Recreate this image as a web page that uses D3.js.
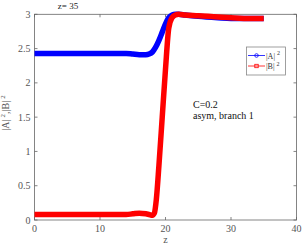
<!DOCTYPE html>
<html><head><meta charset="utf-8">
<script src="https://cdn.jsdelivr.net/npm/d3@7"></script>
<style>body{margin:0;background:#fff}text{font-family:"Liberation Serif","DejaVu Serif",serif;}</style>
</head><body><svg id="c" width="303" height="248"></svg>
<script>
const zA = [0,5,10,14,15,16,17,17.5,18,18.5,19,19.5,20,20.5,21,21.5,22,23,25,28,30,33,35];
const A  = [2.43,2.43,2.43,2.43,2.42,2.41,2.41,2.42,2.45,2.52,2.62,2.74,2.86,2.95,2.99,3.0,3.0,2.99,2.97,2.95,2.94,2.94,2.94];
const zB = [0,5,10,14,15,16,17,17.5,18,18.3,18.6,19,19.5,20,20.5,21,21.5,22,23,25,28,30,33,35];
const B  = [0.08,0.08,0.08,0.08,0.09,0.1,0.09,0.08,0.07,0.1,0.3,0.8,1.5,2.2,2.8,2.95,2.99,3.0,2.99,2.98,2.96,2.95,2.94,2.94];
const xTicks = [0,10,20,30,40];
const yTicks = [0,0.5,1,1.5,2,2.5,3];
const legendLabels = ["|A|","|B|"];

const svg = d3.select("#c");
const L=34.5,R=296.5,T=14.3,Bt=220;
const x = d3.scaleLinear().domain([0,40]).range([L,R]);
const y = d3.scaleLinear().domain([0,3]).range([Bt,T]);
const ax="#666";

svg.append("rect").attr("x",L).attr("y",T).attr("width",R-L).attr("height",Bt-T).attr("fill","none").attr("stroke",ax).attr("stroke-width",0.8);
xTicks.forEach(t=>{
  svg.append("line").attr("x1",x(t)).attr("x2",x(t)).attr("y1",Bt).attr("y2",Bt-3).attr("stroke",ax).attr("stroke-width",0.8);
  svg.append("line").attr("x1",x(t)).attr("x2",x(t)).attr("y1",T).attr("y2",T+3).attr("stroke",ax).attr("stroke-width",0.8);
  svg.append("text").attr("x",x(t)).attr("y",Bt+12).attr("text-anchor","middle").attr("font-size",10).attr("fill","#555").text(t);
});
yTicks.forEach(t=>{
  svg.append("line").attr("x1",L).attr("x2",L+3).attr("y1",y(t)).attr("y2",y(t)).attr("stroke",ax).attr("stroke-width",0.8);
  svg.append("line").attr("x1",R).attr("x2",R-3).attr("y1",y(t)).attr("y2",y(t)).attr("stroke",ax).attr("stroke-width",0.8);
  svg.append("text").attr("x",L-4).attr("y",y(t)+3.5).attr("text-anchor","end").attr("font-size",10).attr("fill","#555").text(t);
});

const line = d3.line().x(d=>x(d[0])).y(d=>y(d[1])).curve(d3.curveMonotoneX);
svg.append("path").datum(zA.map((z,i)=>[z,A[i]])).attr("d",line).attr("fill","none").attr("stroke","#0000ff").attr("stroke-width",5.5).attr("stroke-linejoin","round");
svg.append("path").datum(zB.map((z,i)=>[z,B[i]])).attr("d",line).attr("fill","none").attr("stroke","#ff0000").attr("stroke-width",5.5).attr("stroke-linejoin","round");

svg.append("text").attr("x",68).attr("y",9).attr("text-anchor","middle").attr("font-size",9).attr("fill","#222").text("z= 35");
svg.append("text").attr("x",x(20)).attr("y",243).attr("text-anchor","middle").attr("font-size",10).attr("fill","#555").text("z");

const yl = svg.append("text").attr("transform","translate(9,113) rotate(-90)").attr("text-anchor","middle").attr("font-size",10).attr("fill","#555");
yl.append("tspan").text("|A|");
yl.append("tspan").attr("font-size",7).attr("dy",-4).attr("dx",2).text("2");
yl.append("tspan").attr("dy",4).text(",|B|");
yl.append("tspan").attr("font-size",7).attr("dy",-4).attr("dx",2).text("2");

svg.append("text").attr("x",193).attr("y",108).attr("font-size",10).attr("fill","#111").text("C=0.2");
svg.append("text").attr("x",193).attr("y",119).attr("font-size",10).attr("fill","#111").text("asym, branch 1");

// legend
svg.append("rect").attr("x",246.5).attr("y",47).attr("width",39).attr("height",28).attr("fill","#fff").attr("stroke","#888").attr("stroke-width",0.8);
const cols=["#0000ff","#ff0000"];
[55.5,66].forEach((ly,i)=>{
  svg.append("line").attr("x1",248).attr("x2",265).attr("y1",ly).attr("y2",ly).attr("stroke",cols[i]).attr("stroke-width",0.8);
  if(i===0) svg.append("circle").attr("cx",256.5).attr("cy",ly).attr("r",1.8).attr("fill","none").attr("stroke",cols[i]).attr("stroke-width",0.8);
  else svg.append("rect").attr("x",254.8).attr("y",ly-1.7).attr("width",3.4).attr("height",3.4).attr("fill","none").attr("stroke",cols[i]).attr("stroke-width",0.8);
  const t=svg.append("text").attr("x",266).attr("y",ly+3).attr("font-size",8).attr("fill","#333");
  t.append("tspan").text(legendLabels[i]);
  t.append("tspan").attr("font-size",6).attr("dy",-3.5).attr("dx",2).text("2");
});
</script></body></html>
